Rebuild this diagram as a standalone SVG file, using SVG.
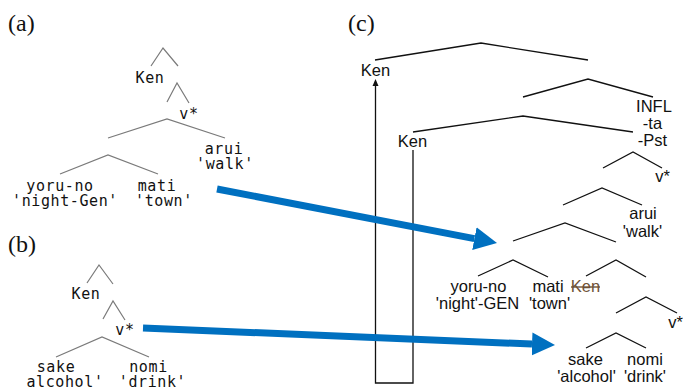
<svg xmlns="http://www.w3.org/2000/svg" width="683" height="391" viewBox="0 0 683 391">
  <style>
    .panel { font-family: "Liberation Serif", "Times New Roman", serif; font-size: 24px; fill: #111; }
    .mono { font-family: "DejaVu Sans Mono", "Liberation Mono", monospace; font-size: 15px; letter-spacing: 0.6px; fill: #111; text-anchor: middle; }
    .sans { font-family: "Liberation Sans", Arial, sans-serif; font-size: 16.5px; fill: #111; text-anchor: middle; }
    .grey { fill: none; stroke: #7a7a7a; stroke-width: 1.2; }
    .blk { fill: none; stroke: #111; stroke-width: 1.3; }
    .struck { fill: #6e5238; }
    .big { fill: none; stroke: #0070c0; stroke-width: 7; }
  </style>
  <defs>
    <marker id="bluehead" markerUnits="userSpaceOnUse" markerWidth="24" markerHeight="24" viewBox="0 -12 24 24" refX="0" refY="0" orient="auto">
      <path d="M0,-11.5 L23,0 L0,11.5 Z" fill="#0070c0"/>
    </marker>
    <marker id="tiphead" markerUnits="userSpaceOnUse" markerWidth="8" markerHeight="8" viewBox="0 -4 8 8" refX="1" refY="0" orient="auto">
      <path d="M0,-3 L7,0 L0,3 Z" fill="#111"/>
    </marker>
  </defs>

  <rect width="683" height="391" fill="#fff"/>

  <!-- panel letters -->
  <text class="panel" x="8" y="31">(a)</text>
  <text class="panel" x="8" y="252">(b)</text>
  <text class="panel" x="348" y="31">(c)</text>

  <!-- (a) tree -->
  <g id="tree-a">
    <g id="a-branches">
      <polyline class="grey" points="151,66 163,48 178,66"/>
      <polyline class="grey" points="167,102 177,83 189,103"/>
      <polyline class="grey" points="108,138 167,119 225,138"/>
      <polyline class="grey" points="60,174 108,155 158,174"/>
    </g>
    <g id="a-ken"><text class="mono" x="150" y="83">Ken</text></g>
    <g id="a-vstar"><text class="mono" x="189" y="119">v*</text></g>
    <g id="a-arui"><text class="mono" x="224" y="154">arui</text><text class="mono" x="225" y="169">'walk'</text></g>
    <g id="a-yoruno"><text class="mono" x="60" y="191">yoru-no</text><text class="mono" x="65" y="206">'night-Gen'</text></g>
    <g id="a-mati"><text class="mono" x="157" y="191">mati</text><text class="mono" x="164" y="206">'town'</text></g>
  </g>

  <!-- (b) tree -->
  <g id="tree-b">
    <g id="b-branches">
      <polyline class="grey" points="87,283 99,265 113,284"/>
      <polyline class="grey" points="103,319 113,301 125,320"/>
      <polyline class="grey" points="56,357 102,337 149,357"/>
    </g>
    <g id="b-ken"><text class="mono" x="86" y="299">Ken</text></g>
    <g id="b-vstar"><text class="mono" x="125" y="335">v*</text></g>
    <g id="b-sake"><text class="mono" x="56" y="372">sake</text><text class="mono" x="65" y="387">alcohol'</text></g>
    <g id="b-nomi"><text class="mono" x="148.5" y="372">nomi</text><text class="mono" x="152.5" y="387">'drink'</text></g>
  </g>

  <!-- (c) tree -->
  <g id="tree-c">
    <g id="c-branches">
      <polyline class="blk" points="375,60 481,43 588,60"/>
      <polyline class="blk" points="523,97 588,79 653,97"/>
      <polyline class="blk" points="413,132 523,116 633,132"/>
      <polyline class="blk" points="603,168 633,152 662,168"/>
      <polyline class="blk" points="563,205 602,188 642,205"/>
      <polyline class="blk" points="513,241 565,223 616,242"/>
      <polyline class="blk" points="478,276 513,260 548,277"/>
      <polyline class="blk" points="586,276 616,260 646,277"/>
      <polyline class="blk" points="616,313 646,297 677,313"/>
      <polyline class="blk" points="586,348 616,333 646,348"/>
    </g>
    <g id="c-ken-top"><text class="sans" x="375.5" y="76">Ken</text></g>
    <g id="c-infl"><text class="sans" x="654" y="112">INFL</text><text class="sans" x="652.5" y="129">-ta</text><text class="sans" x="652.5" y="146">-Pst</text></g>
    <g id="c-ken"><text class="sans" x="412.5" y="147">Ken</text></g>
    <g id="c-vstar"><text class="sans" x="662.5" y="182">v*</text></g>
    <g id="c-arui"><text class="sans" x="643" y="219">arui</text><text class="sans" x="642.5" y="237">'walk'</text></g>
    <g id="c-yoruno"><text class="sans" x="478.5" y="292">yoru-no</text><text class="sans" x="477.5" y="309">'night'-GEN</text></g>
    <g id="c-mati"><text class="sans" x="548" y="292">mati</text><text class="sans" x="549.5" y="309">'town'</text></g>
    <g id="c-ken-trace"><text class="sans struck" x="585.5" y="292">Ken</text><line x1="571" y1="287" x2="600" y2="287" stroke="#6e5238" stroke-width="1.4"/></g>
    <g id="c-vstar-low"><text class="sans" x="675.5" y="328">v*</text></g>
    <g id="c-sake"><text class="sans" x="585.5" y="365">sake</text><text class="sans" x="586.5" y="382">'alcohol'</text></g>
    <g id="c-nomi"><text class="sans" x="645" y="365">nomi</text><text class="sans" x="645" y="382">'drink'</text></g>
  </g>

  <!-- connectors -->
  <g id="connectors">
    <polyline class="blk" points="413,150 413,383 375.5,383 375.5,85" marker-end="url(#tiphead)"/>
    <line class="big" x1="217" y1="189" x2="474.4" y2="238.6" marker-end="url(#bluehead)"/>
    <line class="big" x1="143" y1="328" x2="532" y2="344.05" marker-end="url(#bluehead)"/>
  </g>
</svg>
